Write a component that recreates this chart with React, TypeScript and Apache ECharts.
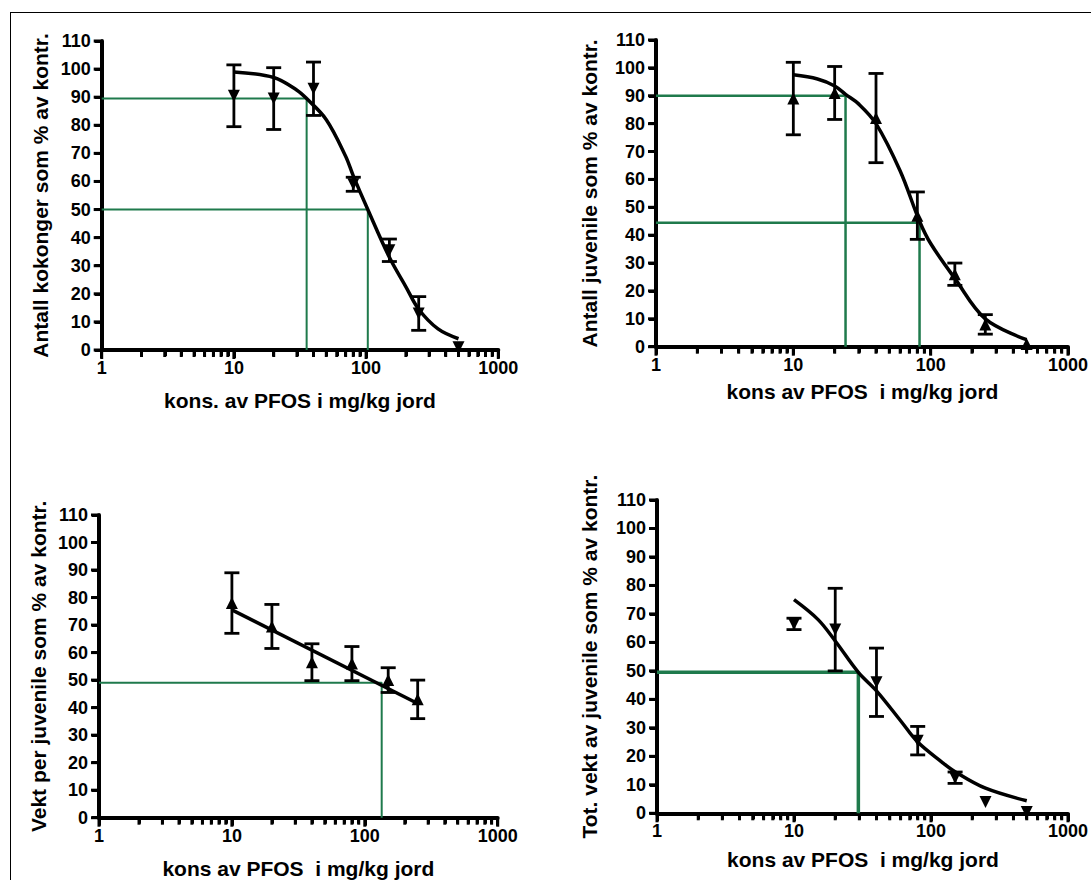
import React, { useEffect, useRef } from "react";
import * as echarts from "echarts";

// ---------- shared axis data ----------
const xTickLabels = ["1", "10", "100", "1000"];
const xTickValues = [1, 10, 100, 1000];
const xMinorTicks = [2, 3, 4, 5, 6, 7, 8, 9, 20, 30, 40, 50, 60, 70, 80, 90, 200, 300, 400, 500, 600, 700, 800, 900];
const yTickValues = [0, 10, 20, 30, 40, 50, 60, 70, 80, 90, 100, 110];
const yMax = 110;
const yStep = 10;

// ---------- panel 1: Antall kokonger ----------
const p1Conc = [10, 20, 40, 80, 150, 250, 500];
const p1Mean = [90.5, 89.5, 93, 59, 35.5, 13, 1];
const p1Err = [11, 11, 9.5, 2.5, 4, 6, 0];
const p1CurveX = [10, 20, 30, 35.5, 50, 70, 80, 103, 150, 200, 250, 350, 500];
const p1CurveY = [99, 97, 92.5, 89.5, 82, 69, 62, 50, 33, 22.5, 14.5, 7.5, 4];
const p1GuideLevel = [89.5, 50];
const p1GuideConc = [35.5, 103];

// ---------- panel 2: Antall juvenile ----------
const p2Conc = [10, 20, 40, 80, 150, 250, 500];
const p2Mean = [89, 91, 82, 47, 26, 8, 1];
const p2Err = [13, 9.5, 16, 8.5, 4, 3.5, 0];
const p2CurveX = [10, 15, 20, 24, 30, 40, 60, 83, 100, 150, 250, 500];
const p2CurveY = [97.5, 96, 93.5, 90.5, 87, 80, 63, 45, 37, 24.5, 10, 2.5];
const p2GuideLevel = [90, 44.5];
const p2GuideConc = [24, 83];

// ---------- panel 3: Vekt per juvenile ----------
const p3Conc = [10, 20, 40, 80, 150, 250];
const p3Mean = [78, 69.5, 56.5, 56, 50, 43];
const p3Err = [11, 8, 6.7, 6.2, 4.5, 7];
const p3CurveX = [10, 250];
const p3CurveY = [75.5, 41.5];
const p3GuideLevel = [49];
const p3GuideConc = [134];

// ---------- panel 4: Tot. vekt av juvenile ----------
const p4Conc = [10, 20, 40, 80, 150, 250, 500];
const p4Mean = [66.5, 64.5, 46, 25.5, 12.5, 4, 0.5];
const p4Err = [2, 14.5, 12, 5, 2, 0, 0];
const p4CurveX = [10, 15, 20, 29.5, 40, 60, 80, 120, 150, 250, 500];
const p4CurveY = [75, 68, 60.5, 49.5, 43, 32.5, 25, 18, 14.6, 8.8, 4.4];
const p4GuideLevel = [49.5];
const p4GuideConc = [29.5];

const GREEN = "#1f7a4c";
const FONT = "Liberation Sans, Arial, sans-serif";

type Panel = {
  grid: { left: number; top: number; width: number; height: number };
  yName: string;
  xName: string;
  yGap: number;
  xGap: number;
  down: boolean;
  conc: number[];
  mean: number[];
  err: number[];
  curveX: number[];
  curveY: number[];
  smooth: boolean;
  guideLevel: number[];
  guideConc: number[];
  guideWidth: number;
};

const panels: Panel[] = [
  {
    grid: { left: 101.7, top: 41, width: 396.6, height: 309 },
    yName: "Antall kokonger som % av kontr.",
    xName: "kons. av PFOS i mg/kg jord",
    yGap: 51, xGap: 40, down: true,
    conc: p1Conc, mean: p1Mean, err: p1Err,
    curveX: p1CurveX, curveY: p1CurveY, smooth: true,
    guideLevel: p1GuideLevel, guideConc: p1GuideConc, guideWidth: 2,
  },
  {
    grid: { left: 656, top: 40, width: 413, height: 306.7 },
    yName: "Antall juvenile som % av kontr.",
    xName: "kons av PFOS  i mg/kg jord",
    yGap: 56, xGap: 34, down: false,
    conc: p2Conc, mean: p2Mean, err: p2Err,
    curveX: p2CurveX, curveY: p2CurveY, smooth: true,
    guideLevel: p2GuideLevel, guideConc: p2GuideConc, guideWidth: 2.5,
  },
  {
    grid: { left: 99, top: 515, width: 398.7, height: 302.7 },
    yName: "Vekt per juvenile som % av kontr.",
    xName: "kons av PFOS  i mg/kg jord",
    yGap: 50, xGap: 40, down: false,
    conc: p3Conc, mean: p3Mean, err: p3Err,
    curveX: p3CurveX, curveY: p3CurveY, smooth: false,
    guideLevel: p3GuideLevel, guideConc: p3GuideConc, guideWidth: 2,
  },
  {
    grid: { left: 657, top: 500, width: 412, height: 313.3 },
    yName: "Tot. vekt av juvenile som % av kontr.",
    xName: "kons av PFOS  i mg/kg jord",
    yGap: 57, xGap: 36, down: true,
    conc: p4Conc, mean: p4Mean, err: p4Err,
    curveX: p4CurveX, curveY: p4CurveY, smooth: true,
    guideLevel: p4GuideLevel, guideConc: p4GuideConc, guideWidth: 3.5,
  },
];

function tickMarks() {
  const marks: any[] = [];
  xMinorTicks.forEach((t) =>
    marks.push({ coord: [t, 0], symbolSize: [3, 6], symbolOffset: [0, 4] })
  );
  xTickValues.forEach((t) =>
    marks.push({ coord: [t, 0], symbolSize: [3, 8], symbolOffset: [0, 5] })
  );
  yTickValues.forEach((v) =>
    marks.push({ coord: [1, v], symbolSize: [7, 3], symbolOffset: [-4.5, 0] })
  );
  return marks;
}

function buildOption() {
  const grid: any[] = [];
  const xAxis: any[] = [];
  const yAxis: any[] = [];
  const series: any[] = [];
  const graphic: any[] = [];

  panels.forEach((p, i) => {
    grid.push({ ...p.grid });
    xAxis.push({
      gridIndex: i,
      type: "log",
      logBase: 10,
      min: 1,
      max: 1000,
      axisLine: { show: true, onZero: false, lineStyle: { color: "#000", width: 4 } },
      axisTick: { show: true, length: 8, lineStyle: { color: "#000", width: 3 } },
      minorTick: { show: true, splitNumber: 9, length: 6, lineStyle: { color: "#000", width: 3 } },
      axisLabel: {
        margin: 9,
        fontFamily: FONT,
        fontSize: 18,
        fontWeight: "bold",
        color: "#000",
        formatter: (v: number) => {
          const idx = xTickValues.findIndex((t) => Math.abs(t - v) < 1e-6 * t);
          return idx >= 0 ? xTickLabels[idx] : "";
        },
      },
      splitLine: { show: false },
    });
    yAxis.push({
      gridIndex: i,
      type: "value",
      min: 0,
      max: yMax,
      interval: yStep,
      axisLine: { show: true, onZero: false, lineStyle: { color: "#000", width: 4 } },
      axisTick: { show: true, length: 7, lineStyle: { color: "#000", width: 3 } },
      axisLabel: { margin: 11, fontFamily: FONT, fontSize: 18, fontWeight: "bold", color: "#000" },
      splitLine: { show: false },
    });

    // axis titles
    const g = p.grid;
    graphic.push({
      type: "text",
      x: g.left + g.width / 2,
      y: g.top + g.height + p.xGap,
      z: 100,
      silent: true,
      style: {
        text: p.xName,
        fontFamily: FONT,
        fontSize: 21,
        fontWeight: "bold",
        fill: "#000",
        align: "center",
        verticalAlign: "top",
      },
    });
    graphic.push({
      type: "text",
      x: g.left - p.yGap,
      y: g.top + g.height / 2,
      rotation: Math.PI / 2,
      z: 100,
      silent: true,
      style: {
        text: p.yName,
        fontFamily: FONT,
        fontSize: 21,
        fontWeight: "bold",
        fill: "#000",
        align: "center",
        verticalAlign: "bottom",
      },
    });

    // green guide lines
    p.guideLevel.forEach((lvl, k) => {
      const c = p.guideConc[k];
      series.push({
        type: "line",
        xAxisIndex: i,
        yAxisIndex: i,
        data: [[1, lvl], [c, lvl], [c, 0]],
        showSymbol: false,
        symbol: "none",
        lineStyle: { color: GREEN, width: p.guideWidth },
        z: 1,
      });
    });

    // fitted curve (+ tick marks placed through the scales)
    series.push({
      type: "line",
      xAxisIndex: i,
      yAxisIndex: i,
      data: p.curveX.map((x, k) => [x, p.curveY[k]]),
      smooth: p.smooth ? 0.35 : false,
      showSymbol: false,
      symbol: "none",
      lineStyle: { color: "#000", width: 3.5 },
      z: 3,
      markPoint: {
        symbol: "rect",
        silent: true,
        animation: false,
        itemStyle: { color: "#000" },
        label: { show: false },
        data: tickMarks(),
      },
    });

    // error bars
    series.push({
      type: "custom",
      xAxisIndex: i,
      yAxisIndex: i,
      data: p.conc.map((x, k) => [x, p.mean[k], p.err[k]]),
      encode: { x: 0, y: 1 },
      z: 4,
      renderItem: (params: any, api: any) => {
        const x = api.value(0);
        const m = api.value(1);
        const e = api.value(2);
        if (!e) return { type: "group", children: [] };
        const top = api.coord([x, m + e]);
        const bot = api.coord([x, m - e]);
        const hw = 7.5;
        const style = { stroke: "#000", lineWidth: 2.8 };
        return {
          type: "group",
          children: [
            { type: "line", shape: { x1: top[0], y1: top[1], x2: bot[0], y2: bot[1] }, style },
            { type: "line", shape: { x1: top[0] - hw, y1: top[1], x2: top[0] + hw, y2: top[1] }, style },
            { type: "line", shape: { x1: bot[0] - hw, y1: bot[1], x2: bot[0] + hw, y2: bot[1] }, style },
          ],
        };
      },
    });

    // markers
    series.push({
      type: "scatter",
      xAxisIndex: i,
      yAxisIndex: i,
      data: p.conc.map((x, k) => [x, p.mean[k]]),
      symbol: "triangle",
      symbolRotate: p.down ? 180 : 0,
      symbolSize: 12,
      itemStyle: { color: "#000", opacity: 1 },
      z: 5,
    });
  });

  return {
    animation: false,
    grid,
    xAxis,
    yAxis,
    series,
    graphic,
  };
}

export default function App() {
  const ref = useRef<HTMLDivElement>(null);
  useEffect(() => {
    if (!ref.current) return;
    const chart = echarts.init(ref.current, undefined, { renderer: "svg" });
    chart.setOption(buildOption() as any);
    return () => chart.dispose();
  }, []);
  return (
    <div
      style={{ position: "fixed", left: 0, top: 0, width: 1091, height: 880, overflow: "hidden", background: "#fff" }}
    >
      <div ref={ref} style={{ position: "absolute", left: 0, top: 0, width: 1091, height: 880 }} />
      <div
        style={{
          position: "absolute",
          left: 10,
          top: 12,
          width: 1100,
          height: 900,
          border: "1.5px solid #000",
          pointerEvents: "none",
        }}
      />
    </div>
  );
}
